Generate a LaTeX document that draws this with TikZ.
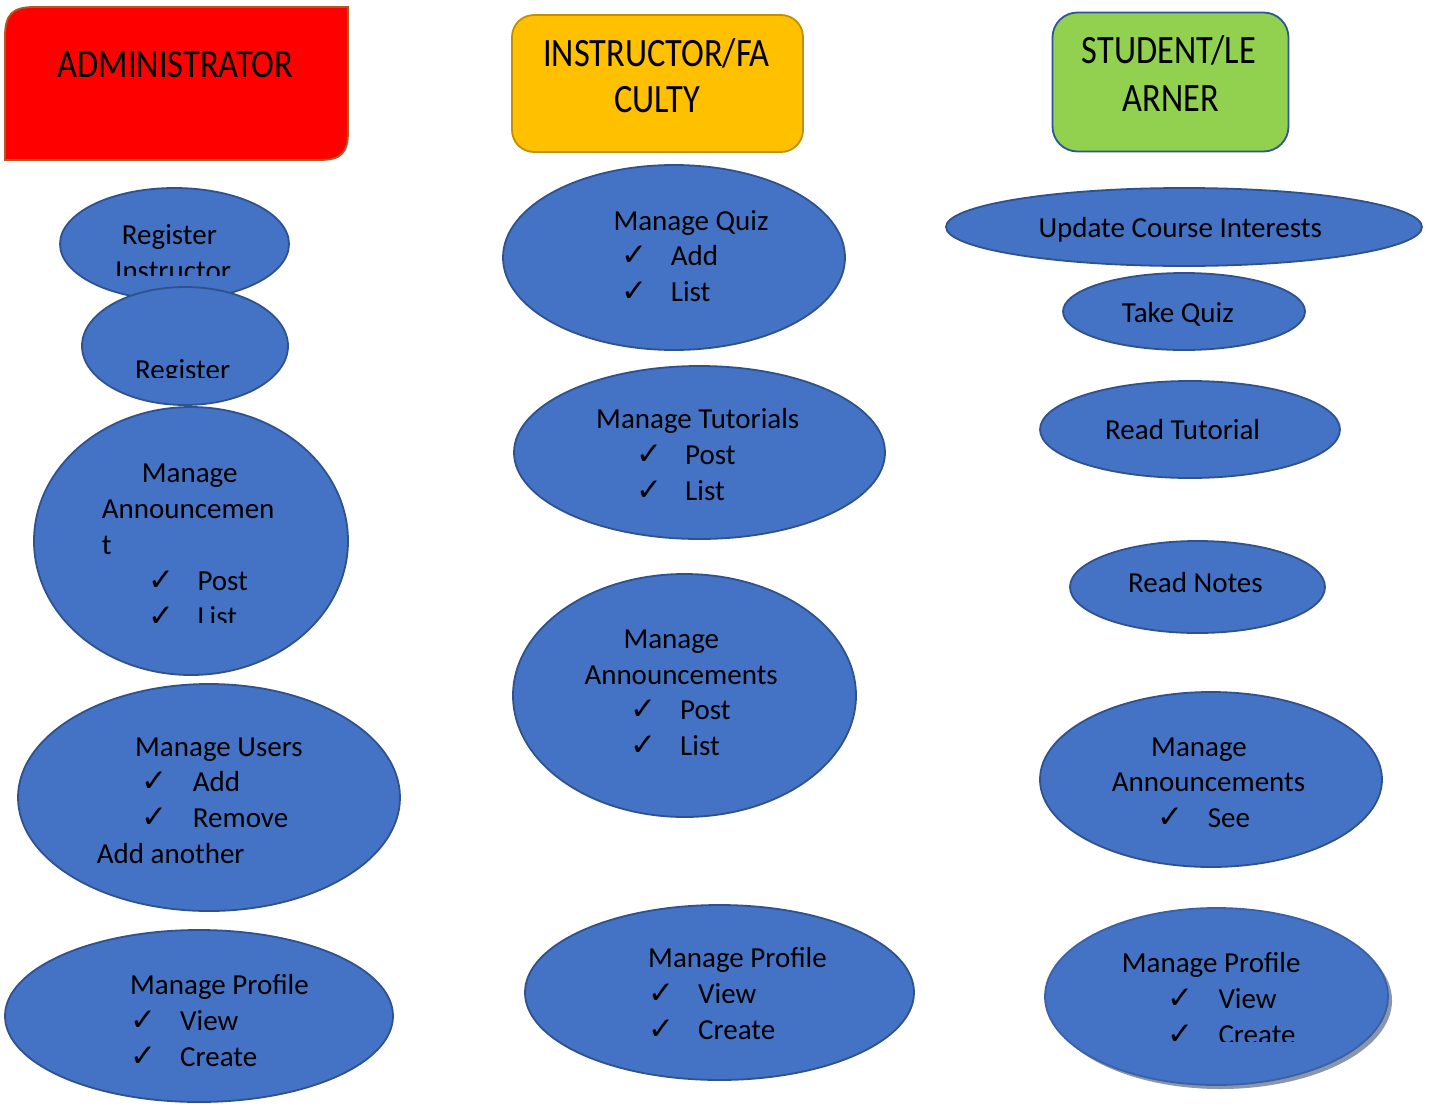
\documentclass[tikz,border=0pt]{standalone}
\usepackage{fontspec}
\setmainfont{Carlito}
\newfontfamily\chkfam{DejaVu Sans}
\usetikzlibrary{shapes.geometric}
\definecolor{ovalfill}{HTML}{4472C4}
\definecolor{ovalline}{HTML}{2F528F}
\definecolor{adminfill}{HTML}{FF0000}
\definecolor{adminline}{HTML}{AE5A21}
\definecolor{instfill}{HTML}{FFC000}
\definecolor{instline}{HTML}{BF9000}
\definecolor{studfill}{HTML}{92D050}
\definecolor{studline}{HTML}{2F5597}
\definecolor{shadowgray}{HTML}{8A96AC}
\newcommand\bodyfnt{\fontsize{29}{36}\selectfont}
\newcommand\headfnt{\fontsize{34.4}{46}\selectfont}
\newcommand\chkfnt{\chkfam\fontsize{31}{36}\selectfont}
\newcommand\tall[1]{\scalebox{1}[1.17]{#1}}
\tikzset{
  oval/.style={ellipse, draw=ovalline, fill=ovalfill, line width=1.8pt, inner sep=0pt},
  lbl/.style={anchor=base west, inner sep=0pt, font=\bodyfnt, text=black},
  clbl/.style={anchor=base, inner sep=0pt, font=\bodyfnt, text=black},
  chk/.style={anchor=base, inner sep=0pt, font=\chkfnt, text=black},
  hlbl/.style={anchor=base, inner sep=0pt, font=\headfnt, text=black},
  hbox/.style={rectangle, rounded corners=22pt, line width=1.8pt, inner sep=0pt},
}
\begin{document}
\begin{tikzpicture}[x=1pt, y=-1pt]
\useasboundingbox (0,0) rectangle (1432,1103);
\fill[white] (0,0) rectangle (1432,1103);

% ---------- headers ----------
\draw[adminline, fill=adminfill, line width=1.8pt]
  (5,160) -- (5,36) .. controls (5,15) and (12,7) .. (34,7) -- (348,7) -- (348,132)
  .. controls (348,152) and (342,160) .. (320,160) -- cycle;
\node[hlbl] (hadmin) at (175.5,77) {\tall{ADMINISTRATOR}};

\node[hbox, draw=instline, fill=instfill, minimum width=291pt, minimum height=137pt] (hinst) at (657.5,83.5) {};
\node[hlbl] (hinst1) at (656.5,66) {\tall{INSTRUCTOR/FA}};
\node[hlbl] (hinst2) at (657.5,112) {\tall{CULTY}};

\node[hbox, draw=studline, fill=studfill, minimum width=236pt, minimum height=139pt, rounded corners=25pt] (hstud) at (1170.5,82) {};
\node[hlbl] (hstud1) at (1169,63.5) {\tall{STUDENT/LE}};
\node[hlbl] (hstud2) at (1170.8,111) {\tall{ARNER}};

% ---------- administrator column ----------
\node[oval, minimum width=229pt, minimum height=112pt] (e1) at (174.5,244) {};
\node[lbl] (e1a) at (121.7,244) {Register};
\begin{scope}
  \clip (60,250) rectangle (290,275);
  \node[lbl] (e1b) at (115,280) {Instructor};
\end{scope}

\node[oval, minimum width=206pt, minimum height=118pt] (e2) at (185,346) {};
\begin{scope}
  \clip (82,330) rectangle (290,377);
  \node[lbl] (e2a) at (135,379) {Register};
\end{scope}

\node[oval, minimum width=314pt, minimum height=268pt] (e3) at (191,541) {};
\node[lbl] (e3a) at (141.7,482.7) {Manage};
\node[lbl] (e3b) at (101.7,518.3) {Announcemen};
\node[lbl] (e3c) at (101.7,554) {t};
\node[chk] (e3d) at (161.7,590) {✓};
\node[lbl] (e3e) at (197.3,590) {Post};
\begin{scope}
  \clip (90,596) rectangle (300,622);
  \node[chk] (e3f) at (161.7,626) {✓};
  \node[lbl] (e3g) at (197.3,626) {List};
\end{scope}

\node[oval, minimum width=382pt, minimum height=227pt] (e4) at (209,797.5) {};
\node[lbl] (e4a) at (135,756) {Manage Users};
\node[chk] (e4b) at (154,791) {✓};
\node[lbl] (e4c) at (192.7,791) {Add};
\node[chk] (e4d) at (154,827) {✓};
\node[lbl] (e4e) at (192.7,827) {Remove};
\node[lbl] (e4f) at (96.7,863) {Add another};

\node[oval, minimum width=388pt, minimum height=172pt] (e5) at (199,1016) {};
\node[lbl] (e5a) at (130,994) {Manage Profile};
\node[chk] (e5b) at (143.3,1030) {✓};
\node[lbl] (e5c) at (180,1030) {View};
\node[chk] (e5d) at (143.3,1066) {✓};
\node[lbl] (e5e) at (180,1066) {Create};

% ---------- instructor column ----------
\node[oval, minimum width=342pt, minimum height=185pt] (e6) at (674,257.5) {};
\node[lbl] (e6a) at (613.3,230) {Manage Quiz};
\node[chk] (e6b) at (634,265) {✓};
\node[lbl] (e6c) at (670.7,265) {Add};
\node[chk] (e6d) at (634,301) {✓};
\node[lbl] (e6e) at (670.7,301) {List};

\node[oval, minimum width=371pt, minimum height=173pt] (e7) at (699.5,452.5) {};
\node[lbl] (e7a) at (596,428) {Manage Tutorials};
\node[chk] (e7b) at (649,464) {✓};
\node[lbl] (e7c) at (685,464) {Post};
\node[chk] (e7d) at (649,500) {✓};
\node[lbl] (e7e) at (685,500) {List};

\node[oval, minimum width=343pt, minimum height=243pt] (e8) at (684.5,695.5) {};
\node[lbl] (e8a) at (623.3,648.3) {Manage};
\node[lbl] (e8b) at (584.3,684) {Announcements};
\node[chk] (e8c) at (643,719) {✓};
\node[lbl] (e8d) at (680,719) {Post};
\node[chk] (e8e) at (643,755) {✓};
\node[lbl] (e8f) at (680,755) {List};

\node[oval, minimum width=389pt, minimum height=175pt] (e9) at (719.5,992.5) {};
\node[lbl] (e9a) at (648,967) {Manage Profile};
\node[chk] (e9b) at (661,1003) {✓};
\node[lbl] (e9c) at (698,1003) {View};
\node[chk] (e9d) at (661,1039) {✓};
\node[lbl] (e9e) at (698,1039) {Create};

% ---------- student column ----------
\node[oval, minimum width=476pt, minimum height=78pt] (e10) at (1184,227) {};
\node[lbl] (e10a) at (1038.3,237.5) {Update Course Interests};

\node[oval, minimum width=242pt, minimum height=77pt] (e11) at (1184,311.5) {};
\node[lbl] (e11a) at (1121.7,322) {Take Quiz};

\node[oval, minimum width=300pt, minimum height=97pt] (e12) at (1190,429.5) {};
\node[lbl] (e12a) at (1105,439) {Read Tutorial};

\node[oval, minimum width=255pt, minimum height=92pt] (e13) at (1197.5,587) {};
\node[lbl] (e13a) at (1128,592) {Read Notes};

\node[oval, minimum width=342pt, minimum height=175pt] (e14) at (1211,779.5) {};
\node[lbl] (e14a) at (1151,756.7) {Manage};
\node[lbl] (e14b) at (1111.7,791) {Announcements};
\node[chk] (e14c) at (1170,827) {✓};
\node[lbl] (e14d) at (1207.7,827) {See};

\node[ellipse, fill=shadowgray, inner sep=0pt, minimum width=343pt, minimum height=177pt] (e15s) at (1220.5,1000.5) {};
\node[oval, draw=ovalfill!85!black, minimum width=343pt, minimum height=177pt] (e15) at (1216.5,996.5) {};
\node[lbl] (e15a) at (1121.7,972.7) {Manage Profile};
\node[chk] (e15b) at (1180.8,1008) {✓};
\node[lbl] (e15c) at (1218.3,1008) {View};
\begin{scope}
  \clip (1100,1015) rectangle (1340,1041);
  \node[chk] (e15d) at (1180.8,1044) {✓};
  \node[lbl] (e15e) at (1218.3,1044) {Create};
\end{scope}
\end{tikzpicture}
\end{document}
